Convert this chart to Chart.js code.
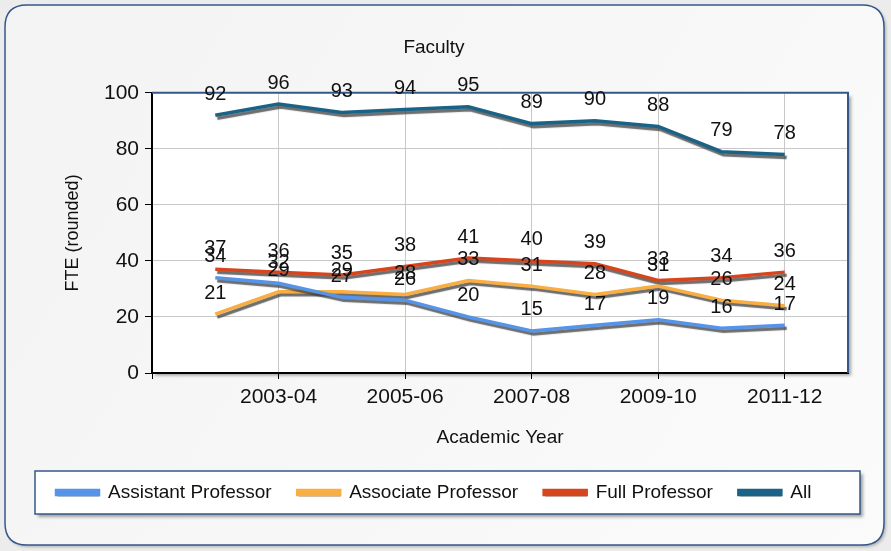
<!DOCTYPE html>
<html lang="en">
<head>
    <meta charset="UTF-8">
    <title>Faculty</title>
    <script src="https://cdn.jsdelivr.net/npm/chart.js"></script>
    <style>
        body {
            margin: 0;
            background: #ececec;
        }
        #facultyChart {
            display: block;
        }
    </style>
</head>
<body>
    <canvas id="facultyChart" width="891" height="551"></canvas>

    <script>
        // values
        const years = ['2002-03', '2003-04', '2004-05', '2005-06', '2006-07', '2007-08', '2008-09', '2009-10', '2010-11', '2011-12'];
        const assistant = [34, 32, 27, 26, 20, 15, 17, 19, 16, 17];
        const associate = [21, 29, 29, 28, 33, 31, 28, 31, 26, 24];
        const full = [37, 36, 35, 38, 41, 40, 39, 33, 34, 36];
        const all = [92, 96, 93, 94, 95, 89, 90, 88, 79, 78];
        const yTicks = [0, 20, 40, 60, 80, 100];

        const FONT = "'Liberation Sans', Arial, sans-serif";
        const TEXT = '#111111';
        const FRAME = '#34578a';

        function points(values) {
            return values.map((v, i) => ({ x: i + 1, y: v }));
        }

        // only every other year gets a label / grid line
        function isLabeled(value) {
            return value >= 2 && value <= 10 && value % 2 === 0;
        }

        function roundRect(ctx, x, y, w, h, r) {
            ctx.beginPath();
            ctx.moveTo(x + r, y);
            ctx.lineTo(x + w - r, y);
            ctx.quadraticCurveTo(x + w, y, x + w, y + r);
            ctx.lineTo(x + w, y + h - r);
            ctx.quadraticCurveTo(x + w, y + h, x + w - r, y + h);
            ctx.lineTo(x + r, y + h);
            ctx.quadraticCurveTo(x, y + h, x, y + h - r);
            ctx.lineTo(x, y + r);
            ctx.quadraticCurveTo(x, y, x + r, y);
            ctx.closePath();
        }

        const panelPlugin = {
            id: 'panel',
            beforeDraw(chart) {
                const ctx = chart.ctx;
                const a = chart.chartArea;
                ctx.save();
                // outer rounded panel
                ctx.shadowColor = 'rgba(0,0,0,0.25)';
                ctx.shadowOffsetX = 2;
                ctx.shadowOffsetY = 2;
                ctx.shadowBlur = 3;
                roundRect(ctx, 5, 5, 879, 540, 22);
                const g = ctx.createLinearGradient(0, 0, 891, 551);
                g.addColorStop(0, '#f3f3f3');
                g.addColorStop(1, '#fbfbfb');
                ctx.fillStyle = g;
                ctx.fill();
                ctx.shadowColor = 'transparent';
                ctx.lineWidth = 1.5;
                ctx.strokeStyle = FRAME;
                ctx.stroke();

                // plot area with shadow
                ctx.shadowColor = 'rgba(0,0,0,0.35)';
                ctx.shadowOffsetX = 3;
                ctx.shadowOffsetY = 3;
                ctx.shadowBlur = 3;
                ctx.fillStyle = '#ffffff';
                ctx.fillRect(a.left, a.top, a.right - a.left, a.bottom - a.top);

                // legend frame
                ctx.fillRect(35, 471, 825, 43);
                ctx.shadowColor = 'transparent';
                ctx.lineWidth = 1.5;
                ctx.strokeStyle = FRAME;
                ctx.strokeRect(35, 471, 825, 43);

                // grey shadows under the legend lines
                const boxes = chart.legend.legendHitBoxes || [];
                ctx.fillStyle = '#8a8a8a';
                boxes.forEach(b => {
                    ctx.fillRect(b.left + 1, b.top + b.height / 2 + 1, 42, 3);
                });
                ctx.restore();
            },
            beforeDatasetsDraw(chart) {
                const ctx = chart.ctx;
                const a = chart.chartArea;
                ctx.save();
                ctx.strokeStyle = FRAME;
                ctx.lineWidth = 2;
                ctx.beginPath();
                ctx.moveTo(a.left, a.top);
                ctx.lineTo(a.right, a.top);
                ctx.lineTo(a.right, a.bottom);
                ctx.stroke();
                ctx.restore();
            },
            beforeDatasetDraw(chart) {
                const ctx = chart.ctx;
                ctx.save();
                ctx.shadowColor = 'rgba(60,60,60,0.75)';
                ctx.shadowOffsetX = 2;
                ctx.shadowOffsetY = 3;
                ctx.shadowBlur = 1;
            },
            afterDatasetDraw(chart) {
                chart.ctx.restore();
            },
            afterDatasetsDraw(chart) {
                // value labels above every point
                const ctx = chart.ctx;
                ctx.save();
                ctx.font = '20px ' + FONT;
                ctx.fillStyle = TEXT;
                ctx.textAlign = 'center';
                ctx.textBaseline = 'middle';
                chart.data.datasets.forEach((ds, i) => {
                    chart.getDatasetMeta(i).data.forEach((pt, j) => {
                        ctx.fillText(ds.data[j].y, pt.x, pt.y - 21);
                    });
                });
                ctx.restore();
            }
        };

        new Chart(document.getElementById('facultyChart'), {
            type: 'line',
            data: {
                datasets: [{
                    label: 'Assistant Professor',
                    data: points(assistant),
                    borderColor: '#5594e8',
                    backgroundColor: '#5594e8'
                }, {
                    label: 'Associate Professor',
                    data: points(associate),
                    borderColor: '#f8ae42',
                    backgroundColor: '#f8ae42'
                }, {
                    label: 'Full Professor',
                    data: points(full),
                    borderColor: '#d6451d',
                    backgroundColor: '#d6451d'
                }, {
                    label: 'All',
                    data: points(all),
                    borderColor: '#1b6287',
                    backgroundColor: '#1b6287'
                }]
            },
            options: {
                responsive: false,
                animation: false,
                events: [],
                layout: {
                    padding: { left: 20, right: 43, top: 21, bottom: 39 }
                },
                elements: {
                    line: { borderWidth: 3.5, tension: 0 },
                    point: { radius: 0 }
                },
                plugins: {
                    tooltip: { enabled: false },
                    title: {
                        display: true,
                        text: 'Faculty',
                        color: TEXT,
                        font: { family: FONT, size: 19, weight: 'normal' },
                        padding: { top: 15, bottom: 34 }
                    },
                    legend: {
                        position: 'bottom',
                        labels: {
                            color: TEXT,
                            font: { family: FONT, size: 19 },
                            boxWidth: 42,
                            boxHeight: 4,
                            padding: 26
                        }
                    }
                },
                scales: {
                    x: {
                        type: 'linear',
                        min: 0,
                        max: 11,
                        afterFit(scale) { scale.height = 84; },
                        afterBuildTicks(scale) {
                            scale.ticks = years.map((y, i) => ({ value: i + 1 }));
                            scale.ticks.unshift({ value: 0 });
                            scale.ticks.push({ value: 11 });
                        },
                        ticks: {
                            autoSkip: false,
                            maxRotation: 0,
                            padding: 6,
                            color: TEXT,
                            font: { family: FONT, size: 21 },
                            callback: value => isLabeled(value) ? years[value - 1] : ''
                        },
                        grid: {
                            tickLength: 6,
                            color: c => isLabeled(c.tick.value) ? '#c8c8c8' : 'rgba(0,0,0,0)',
                            tickColor: c => (isLabeled(c.tick.value) || c.tick.value === 0) ? '#000' : 'rgba(0,0,0,0)'
                        },
                        border: { color: '#000', width: 2 },
                        title: {
                            display: true,
                            text: 'Academic Year',
                            color: TEXT,
                            font: { family: FONT, size: 19 },
                            padding: { top: 0, bottom: 8 }
                        }
                    },
                    y: {
                        min: 0,
                        max: 100,
                        afterFit(scale) { scale.width = 132; },
                        afterBuildTicks(scale) {
                            scale.ticks = yTicks.map(v => ({ value: v }));
                        },
                        ticks: {
                            padding: 6,
                            color: TEXT,
                            font: { family: FONT, size: 21 }
                        },
                        grid: {
                            tickLength: 7,
                            color: '#c8c8c8',
                            tickColor: '#000'
                        },
                        border: { color: '#000', width: 2 },
                        title: {
                            display: true,
                            text: 'FTE (rounded)',
                            color: TEXT,
                            font: { family: FONT, size: 18 },
                            padding: { top: 42, bottom: 0 }
                        }
                    }
                }
            },
            plugins: [panelPlugin]
        });
    </script>
</body>
</html>
